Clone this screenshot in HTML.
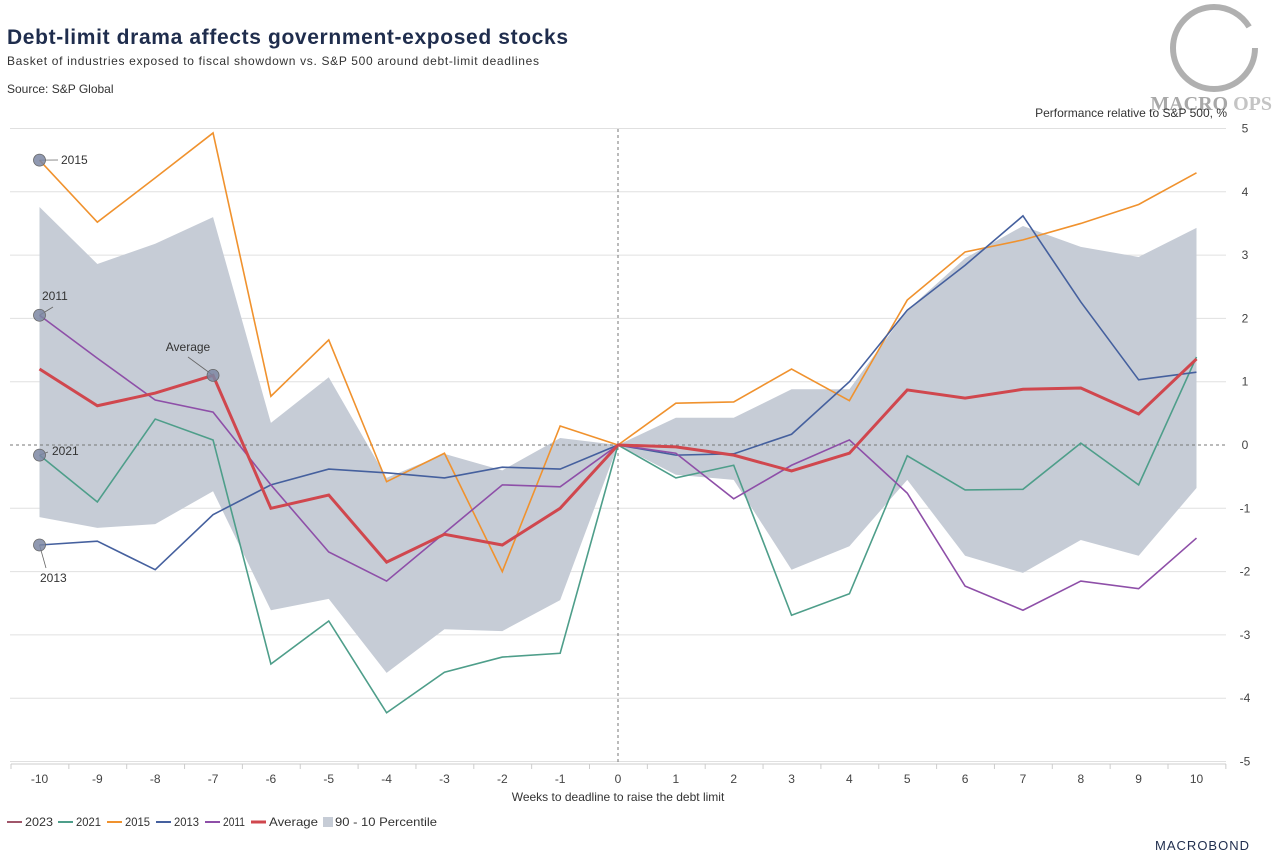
<!DOCTYPE html>
<html><head><meta charset="utf-8"><style>
html,body{margin:0;padding:0;background:#fff;}
body{width:1273px;height:862px;overflow:hidden;font-family:"Liberation Sans",sans-serif;position:relative;}
svg text{font-family:"Liberation Sans",sans-serif;}
</style></head><body>
<svg id="chart" width="1273" height="862" viewBox="0 0 1273 862" xmlns="http://www.w3.org/2000/svg">
<text x="7" y="44" font-size="21" font-weight="bold" fill="#1f2d4d" textLength="561">Debt-limit drama affects government-exposed stocks</text>
<text x="7" y="65" font-size="12" fill="#333" textLength="532">Basket of industries exposed to fiscal showdown vs. S&amp;P 500 around debt-limit deadlines</text>
<text x="7" y="93" font-size="12" fill="#333">Source: S&amp;P Global</text>
<g>
<circle cx="1214" cy="48" r="41" fill="none" stroke="#b0b0b0" stroke-width="6" stroke-dasharray="235 25"/>
<text x="1272" y="110" font-size="20" fill="#a8a8a8" text-anchor="end" style="font-family:'Liberation Serif',serif;font-weight:bold">MACRO <tspan fill="#c4c4c4">OPS</tspan></text>
</g>
<text x="1227" y="117" font-size="12" fill="#333" text-anchor="end">Performance relative to S&amp;P 500, %</text>
<g id="grid"></g>
<g id="band"></g>
<g id="gridover"></g>
<g id="lines"></g>
<g id="axes"></g>
<text x="618" y="801" font-size="12" fill="#333" text-anchor="middle">Weeks to deadline to raise the debt limit</text>
<g id="legend"></g>
<text x="1250" y="850" font-size="13" fill="#1f2d4d" text-anchor="end" letter-spacing="1">MACROBOND</text>
</svg>
<script>
const weeks=[-10,-9,-8,-7,-6,-5,-4,-3,-2,-1,0,1,2,3,4,5,6,7,8,9,10];
const yTicks=[5,4,3,2,1,0,-1,-2,-3,-4,-5];
const s2015=[4.5,3.52,4.22,4.93,0.77,1.66,-0.58,-0.13,-2.0,0.3,0,0.66,0.68,1.2,0.7,2.29,3.05,3.24,3.5,3.8,4.3];
const s2013=[-1.58,-1.52,-1.97,-1.1,-0.63,-0.38,-0.44,-0.52,-0.35,-0.38,0,-0.16,-0.14,0.17,1.0,2.13,2.84,3.62,2.26,1.03,1.15];
const s2021=[-0.16,-0.9,0.41,0.08,-3.46,-2.78,-4.23,-3.59,-3.35,-3.29,0,-0.52,-0.32,-2.69,-2.35,-0.17,-0.71,-0.7,0.03,-0.63,1.39];
const s2011=[2.05,1.37,0.71,0.52,-0.63,-1.69,-2.15,-1.39,-0.63,-0.66,0,-0.13,-0.85,-0.32,0.08,-0.76,-2.23,-2.61,-2.15,-2.27,-1.47];
const sAvg=[1.2,0.62,0.82,1.1,-1.0,-0.79,-1.85,-1.41,-1.58,-1.0,0,-0.03,-0.16,-0.41,-0.13,0.87,0.74,0.88,0.9,0.49,1.36];
const bandHi=[3.76,2.86,3.18,3.6,0.35,1.07,-0.52,-0.14,-0.4,0.11,0,0.43,0.43,0.88,0.88,2.13,2.95,3.46,3.13,2.97,3.43];
const bandLo=[-1.14,-1.31,-1.25,-0.73,-2.61,-2.43,-3.6,-2.91,-2.94,-2.45,0,-0.47,-0.55,-1.97,-1.6,-0.55,-1.75,-2.02,-1.5,-1.75,-0.68];
const NS="http://www.w3.org/2000/svg";
const X=w=>618+w*57.85;
const Y=v=>445-v*63.3;
function mk(tag,attrs,parent){const e=document.createElementNS(NS,tag);for(const k in attrs)e.setAttribute(k,attrs[k]);document.getElementById(parent).appendChild(e);return e;}
yTicks.forEach(t=>{
 const l=mk('line',{x1:10,x2:1226,y1:Y(t),y2:Y(t),stroke:t===0?'#777':'#e0e0e0','stroke-width':1,'stroke-dasharray':t===0?'3 3':'none'},t===0?'gridover':'grid');
 
 
 const tx=mk('text',{x:1245,y:Y(t)+4,'font-size':12,fill:'#444','text-anchor':'middle'},'axes');
 tx.textContent=t;
 
 
});
const vl=mk('line',{x1:618,x2:618,y1:129,y2:764,stroke:'#777','stroke-dasharray':'3 3'},'gridover');


let bp=weeks.map((w,i)=>X(w)+','+Y(bandHi[i])).join(' ')+' '+weeks.slice().reverse().map((w,j)=>X(w)+','+Y(bandLo[weeks.length-1-j])).join(' ');
const band=mk('polygon',{points:bp,fill:'#c6ccd6'},'band');


function line(arr,color,w,name){
 const p=mk('polyline',{points:weeks.map((wk,i)=>X(wk)+','+Y(arr[i])).join(' '),fill:'none',stroke:color,'stroke-width':w,'stroke-linejoin':'miter'},'lines');
 
 
}
line(s2021,'#4e9e8a',1.6,'series-2021');
line(s2015,'#f0922e',1.6,'series-2015');
line(s2013,'#45609e',1.6,'series-2013');
line(s2011,'#8e4fa8',1.6,'series-2011');
line(sAvg,'#d0474e',3,'series-average');
mk('line',{x1:11,x2:1226,y1:764,y2:764,stroke:'#ccc'},'axes');
for(let i=0;i<=21;i++){mk('line',{x1:11+i*57.85,x2:11+i*57.85,y1:764,y2:769,stroke:'#ccc'},'axes');}
weeks.forEach(w=>{
 const t=mk('text',{x:X(w),y:783,'font-size':12,fill:'#444','text-anchor':'middle'},'axes');
 t.textContent=w;
 
 
});
function marker(w,v,lbl,lx,ly,tx,ty,anchor){
 mk('line',{x1:X(w),y1:Y(v),x2:lx,y2:ly,stroke:'#666','stroke-width':0.8},'lines');
 const c=mk('circle',{cx:X(w),cy:Y(v),r:6,fill:'#7d87a3',stroke:'#666','stroke-width':0.8,'fill-opacity':0.85},'lines');
 
 
 const t=mk('text',{x:tx,y:ty,'font-size':12,fill:'#333','text-anchor':anchor},'lines');
 t.textContent=lbl;
 
 
}
marker(-10,s2015[0],'2015',58,160,61,164,'start');
marker(-10,s2011[0],'2011',53,307,42,300,'start');
marker(-7,sAvg[3],'Average',188,357,188,351,'middle');
marker(-10,s2021[0],'2021',48,452,52,455,'start');
marker(-10,s2013[0],'2013',46,568,40,582,'start');
const leg=[['2023','#a0566a',2],['2021','#4e9e8a',2],['2015','#f0922e',2],['2013','#45609e',2],['2011','#8e4fa8',2],['Average','#d0474e',3],['90 - 10 Percentile','#c6ccd6',0]];
const legX=[7,58,107,156,205,251,323];
const legTX=[25,76,125,174,223,269,335];
const legTW=[28,25,25,25,22,49,102];
leg.forEach(([n,c,w],i)=>{
 const lx=legX[i];
 if(w>0){mk('line',{x1:lx,x2:lx+15,y1:822,y2:822,stroke:c,'stroke-width':w},'legend');}
 else{mk('rect',{x:lx,y:817,width:10,height:10,fill:c},'legend');}
 const t=mk('text',{x:legTX[i],y:826,'font-size':12,fill:'#333',textLength:legTW[i],lengthAdjust:'spacingAndGlyphs'},'legend');
 t.textContent=n;
 
 
});
</script>
</body></html>
